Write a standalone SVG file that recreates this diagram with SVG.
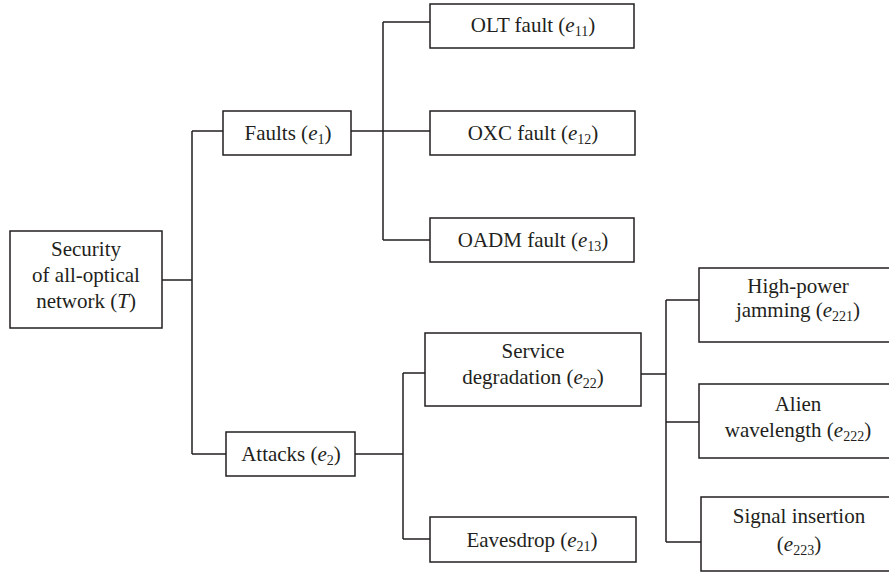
<svg xmlns="http://www.w3.org/2000/svg" width="889" height="574" viewBox="0 0 889 574">
  <style>
    .box { fill: #ffffff; stroke: #231f20; stroke-width: 1.5; }
    .wire { fill: none; stroke: #231f20; stroke-width: 1.5; }
    text { font-family: "Liberation Serif", "Times New Roman", serif; font-size: 21px; fill: #231f20; text-anchor: middle; }
    .it { font-style: italic; }
    .sub { font-size: 14px; }
  </style>

  <!-- tree connectors -->
  <g id="connectors">
    <path class="wire" d="M162,280 H192 M192,131 V454 M192,131 H223 M192,454 H226"/>
    <path class="wire" d="M351,131 H430 M383,22 V240 M383,22 H430 M383,240 H430"/>
    <path class="wire" d="M355,454 H403 M403,373 V539 M403,373 H425 M403,539 H430"/>
    <path class="wire" d="M641,374 H666 M666,300 V542 M666,300 H699 M666,422 H699 M666,542 H701"/>
  </g>

  <g id="root">
    <rect class="box" x="10" y="231" width="152" height="97"/>
    <text x="86" y="256">Security</text>
    <text x="86" y="282">of all-optical</text>
    <text x="86" y="308">network (<tspan class="it">T</tspan>)</text>
  </g>

  <g id="faults">
    <rect class="box" x="223" y="111" width="128" height="44"/>
    <text x="288" y="140">Faults (<tspan class="it">e</tspan><tspan class="sub" dy="4">1</tspan><tspan dy="-4">)</tspan></text>
  </g>

  <g id="olt-fault">
    <rect class="box" x="430" y="4" width="204" height="44"/>
    <text x="533" y="32">OLT fault (<tspan class="it">e</tspan><tspan class="sub" dy="4">11</tspan><tspan dy="-4">)</tspan></text>
  </g>

  <g id="oxc-fault">
    <rect class="box" x="430" y="111" width="205" height="44"/>
    <text x="533" y="140">OXC fault (<tspan class="it">e</tspan><tspan class="sub" dy="4">12</tspan><tspan dy="-4">)</tspan></text>
  </g>

  <g id="oadm-fault">
    <rect class="box" x="430" y="218" width="204" height="44"/>
    <text x="533" y="247">OADM fault (<tspan class="it">e</tspan><tspan class="sub" dy="4">13</tspan><tspan dy="-4">)</tspan></text>
  </g>

  <g id="attacks">
    <rect class="box" x="226" y="432" width="129" height="44"/>
    <text x="291" y="461">Attacks (<tspan class="it">e</tspan><tspan class="sub" dy="4">2</tspan><tspan dy="-4">)</tspan></text>
  </g>

  <g id="service-degradation">
    <rect class="box" x="425" y="333" width="216" height="73"/>
    <text x="533" y="358">Service</text>
    <text x="533" y="384">degradation (<tspan class="it">e</tspan><tspan class="sub" dy="4">22</tspan><tspan dy="-4">)</tspan></text>
  </g>

  <g id="eavesdrop">
    <rect class="box" x="430" y="517" width="206" height="45"/>
    <text x="532" y="547">Eavesdrop (<tspan class="it">e</tspan><tspan class="sub" dy="4">21</tspan><tspan dy="-4">)</tspan></text>
  </g>

  <g id="high-power-jamming">
    <rect class="box" x="699" y="268" width="200" height="74"/>
    <text x="798" y="293">High-power</text>
    <text x="798" y="317">jamming (<tspan class="it">e</tspan><tspan class="sub" dy="4">221</tspan><tspan dy="-4">)</tspan></text>
  </g>

  <g id="alien-wavelength">
    <rect class="box" x="699" y="384" width="200" height="74"/>
    <text x="798" y="411">Alien</text>
    <text x="798" y="437">wavelength (<tspan class="it">e</tspan><tspan class="sub" dy="4">222</tspan><tspan dy="-4">)</tspan></text>
  </g>

  <g id="signal-insertion">
    <rect class="box" x="701" y="497" width="200" height="74"/>
    <text x="799" y="523">Signal insertion</text>
    <text x="799" y="551">(<tspan class="it">e</tspan><tspan class="sub" dy="4">223</tspan><tspan dy="-4">)</tspan></text>
  </g>
</svg>
